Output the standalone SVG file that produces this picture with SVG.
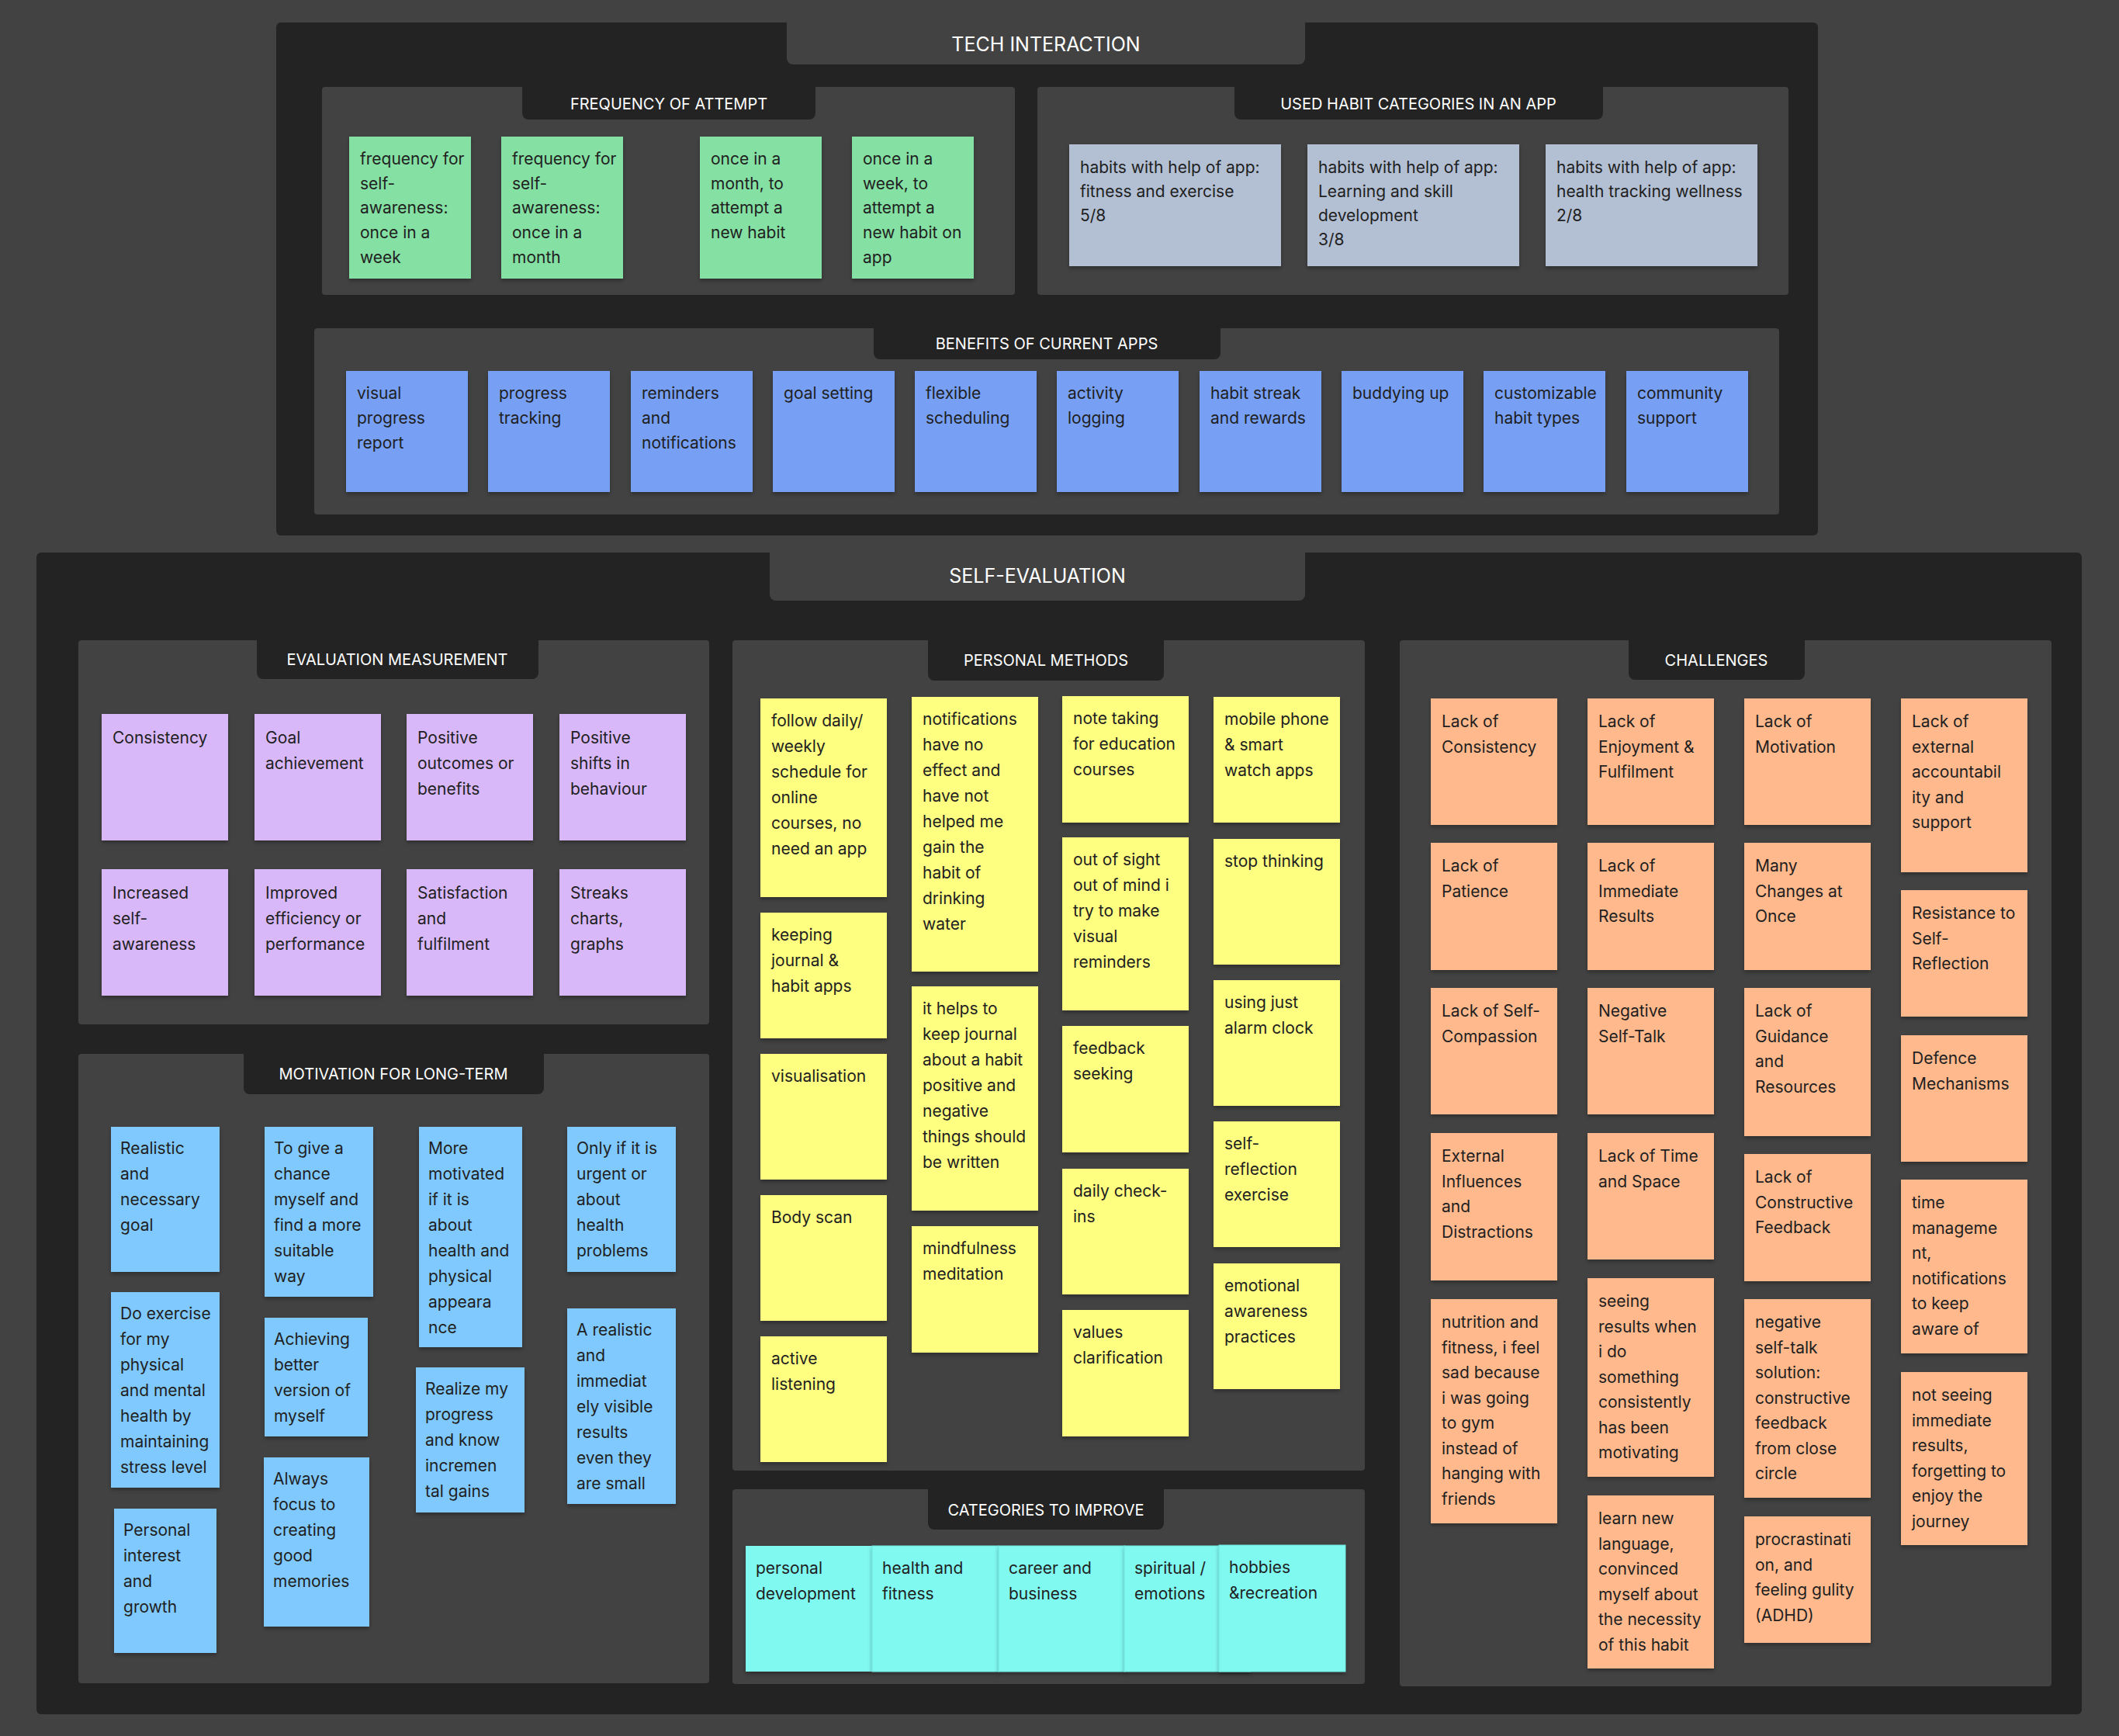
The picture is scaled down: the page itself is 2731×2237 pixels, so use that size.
<svg xmlns="http://www.w3.org/2000/svg" width="2731" height="2237" viewBox="0 0 2731 2237">
<defs>
<style>
.bg{fill:#424242}
.frame{fill:#232323}
.panel{fill:#424242}
.tab{fill:#232323}
.btab{fill:#424242}
.c{filter:url(#sh)}
.green{fill:#85e0a3}
.grey{fill:#b3bfd3}
.blue{fill:#77a0f4}
.purple{fill:#d9b8fa}
.lblue{fill:#80c9fe}
.yellow{fill:#fefe80}
.cyan{fill:#80f9f1}
.orange{fill:#ffb98d}
.t{font-family:Inter,'Liberation Sans',sans-serif;font-size:21px;fill:#1f1f1f}
.h{font-family:Inter,'Liberation Sans',sans-serif;font-size:20px;fill:#ffffff;text-anchor:middle}
.H{font-family:Inter,'Liberation Sans',sans-serif;font-size:25px;fill:#ffffff;text-anchor:middle}
</style>
<filter id="sh" x="-10%" y="-10%" width="120%" height="125%">
<feDropShadow dx="0" dy="3" stdDeviation="2.5" flood-color="#000" flood-opacity="0.3"/>
</filter>
</defs>
<rect class="bg" x="0" y="0" width="2731" height="2237"/>

<!-- TECH INTERACTION -->
<g id="tech-interaction">
<rect class="frame" x="356" y="29" width="1987" height="661" rx="6"/>
<rect class="btab" x="1014" y="15" width="668" height="68" rx="8"/>
<text class="H" x="1348" y="66">TECH INTERACTION</text>
</g>

<g id="frequency-of-attempt">
<rect class="panel" x="415" y="112" width="893" height="268" rx="4"/>
<rect class="tab" x="673" y="100" width="378" height="54" rx="8"/>
<text class="h" x="862" y="141">FREQUENCY OF ATTEMPT</text>
</g>
<g id="n-freq-1"><rect class="c green" x="450" y="176" width="157" height="183"/><text class="t" x="464" y="212"><tspan x="464">frequency for</tspan><tspan x="464" dy="31.7">self-</tspan><tspan x="464" dy="31.7">awareness:</tspan><tspan x="464" dy="31.7">once in a</tspan><tspan x="464" dy="31.7">week</tspan></text></g>
<g id="n-freq-2"><rect class="c green" x="646" y="176" width="157" height="183"/><text class="t" x="660" y="212"><tspan x="660">frequency for</tspan><tspan x="660" dy="31.7">self-</tspan><tspan x="660" dy="31.7">awareness:</tspan><tspan x="660" dy="31.7">once in a</tspan><tspan x="660" dy="31.7">month</tspan></text></g>
<g id="n-freq-3"><rect class="c green" x="902" y="176" width="157" height="183"/><text class="t" x="916" y="212"><tspan x="916">once in a</tspan><tspan x="916" dy="31.7">month, to</tspan><tspan x="916" dy="31.7">attempt a</tspan><tspan x="916" dy="31.7">new habit</tspan></text></g>
<g id="n-freq-4"><rect class="c green" x="1098" y="176" width="157" height="183"/><text class="t" x="1112" y="212"><tspan x="1112">once in a</tspan><tspan x="1112" dy="31.7">week, to</tspan><tspan x="1112" dy="31.7">attempt a</tspan><tspan x="1112" dy="31.7">new habit on</tspan><tspan x="1112" dy="31.7">app</tspan></text></g>

<g id="used-habit-categories">
<rect class="panel" x="1337" y="112" width="968" height="268" rx="4"/>
<rect class="tab" x="1591" y="100" width="475" height="54" rx="8"/>
<text class="h" x="1828" y="141">USED HABIT CATEGORIES IN AN APP</text>
</g>
<g id="n-cat-1"><rect class="c grey" x="1378" y="186" width="273" height="157"/><text class="t" x="1392" y="223"><tspan x="1392">habits with help of app:</tspan><tspan x="1392" dy="31">fitness and exercise</tspan><tspan x="1392" dy="31">5/8</tspan></text></g>
<g id="n-cat-2"><rect class="c grey" x="1685" y="186" width="273" height="157"/><text class="t" x="1699" y="223"><tspan x="1699">habits with help of app:</tspan><tspan x="1699" dy="31">Learning and skill</tspan><tspan x="1699" dy="31">development</tspan><tspan x="1699" dy="31">3/8</tspan></text></g>
<g id="n-cat-3"><rect class="c grey" x="1992" y="186" width="273" height="157"/><text class="t" x="2006" y="223"><tspan x="2006">habits with help of app:</tspan><tspan x="2006" dy="31">health tracking wellness</tspan><tspan x="2006" dy="31">2/8</tspan></text></g>

<g id="benefits-of-current-apps">
<rect class="panel" x="405" y="423" width="1888" height="240" rx="4"/>
<rect class="tab" x="1126" y="411" width="447" height="52" rx="8"/>
<text class="h" x="1349" y="450">BENEFITS OF CURRENT APPS</text>
</g>
<g id="n-ben-1"><rect class="c blue" x="446" y="478" width="157" height="156"/><text class="t" x="460" y="514"><tspan x="460">visual</tspan><tspan x="460" dy="32">progress</tspan><tspan x="460" dy="32">report</tspan></text></g>
<g id="n-ben-2"><rect class="c blue" x="629" y="478" width="157" height="156"/><text class="t" x="643" y="514"><tspan x="643">progress</tspan><tspan x="643" dy="32">tracking</tspan></text></g>
<g id="n-ben-3"><rect class="c blue" x="813" y="478" width="157" height="156"/><text class="t" x="827" y="514"><tspan x="827">reminders</tspan><tspan x="827" dy="32">and</tspan><tspan x="827" dy="32">notifications</tspan></text></g>
<g id="n-ben-4"><rect class="c blue" x="996" y="478" width="157" height="156"/><text class="t" x="1010" y="514">goal setting</text></g>
<g id="n-ben-5"><rect class="c blue" x="1179" y="478" width="157" height="156"/><text class="t" x="1193" y="514"><tspan x="1193">flexible</tspan><tspan x="1193" dy="32">scheduling</tspan></text></g>
<g id="n-ben-6"><rect class="c blue" x="1362" y="478" width="157" height="156"/><text class="t" x="1376" y="514"><tspan x="1376">activity</tspan><tspan x="1376" dy="32">logging</tspan></text></g>
<g id="n-ben-7"><rect class="c blue" x="1546" y="478" width="157" height="156"/><text class="t" x="1560" y="514"><tspan x="1560">habit streak</tspan><tspan x="1560" dy="32">and rewards</tspan></text></g>
<g id="n-ben-8"><rect class="c blue" x="1729" y="478" width="157" height="156"/><text class="t" x="1743" y="514">buddying up</text></g>
<g id="n-ben-9"><rect class="c blue" x="1912" y="478" width="157" height="156"/><text class="t" x="1926" y="514"><tspan x="1926">customizable</tspan><tspan x="1926" dy="32">habit types</tspan></text></g>
<g id="n-ben-10"><rect class="c blue" x="2096" y="478" width="157" height="156"/><text class="t" x="2110" y="514"><tspan x="2110">community</tspan><tspan x="2110" dy="32">support</tspan></text></g>

<!-- SELF-EVALUATION -->
<g id="self-evaluation">
<rect class="frame" x="47" y="712" width="2636" height="1497" rx="6"/>
<rect class="btab" x="992" y="700" width="690" height="74" rx="8"/>
<text class="H" x="1337" y="751">SELF-EVALUATION</text>
</g>

<g id="evaluation-measurement">
<rect class="panel" x="101" y="825" width="813" height="495" rx="4"/>
<rect class="tab" x="331" y="813" width="363" height="62" rx="8"/>
<text class="h" x="512" y="857">EVALUATION MEASUREMENT</text>
</g>
<g id="n-eval-1"><rect class="c purple" x="131" y="920" width="163" height="163"/><text class="t" x="145" y="958">Consistency</text></g>
<g id="n-eval-2"><rect class="c purple" x="328" y="920" width="163" height="163"/><text class="t" x="342" y="958"><tspan x="342">Goal</tspan><tspan x="342" dy="32.8">achievement</tspan></text></g>
<g id="n-eval-3"><rect class="c purple" x="524" y="920" width="163" height="163"/><text class="t" x="538" y="958"><tspan x="538">Positive</tspan><tspan x="538" dy="32.8">outcomes or</tspan><tspan x="538" dy="32.8">benefits</tspan></text></g>
<g id="n-eval-4"><rect class="c purple" x="721" y="920" width="163" height="163"/><text class="t" x="735" y="958"><tspan x="735">Positive</tspan><tspan x="735" dy="32.8">shifts in</tspan><tspan x="735" dy="32.8">behaviour</tspan></text></g>
<g id="n-eval-5"><rect class="c purple" x="131" y="1120" width="163" height="163"/><text class="t" x="145" y="1158"><tspan x="145">Increased</tspan><tspan x="145" dy="32.8">self-</tspan><tspan x="145" dy="32.8">awareness</tspan></text></g>
<g id="n-eval-6"><rect class="c purple" x="328" y="1120" width="163" height="163"/><text class="t" x="342" y="1158"><tspan x="342">Improved</tspan><tspan x="342" dy="32.8">efficiency or</tspan><tspan x="342" dy="32.8">performance</tspan></text></g>
<g id="n-eval-7"><rect class="c purple" x="524" y="1120" width="163" height="163"/><text class="t" x="538" y="1158"><tspan x="538">Satisfaction</tspan><tspan x="538" dy="32.8">and</tspan><tspan x="538" dy="32.8">fulfilment</tspan></text></g>
<g id="n-eval-8"><rect class="c purple" x="721" y="1120" width="163" height="163"/><text class="t" x="735" y="1158"><tspan x="735">Streaks</tspan><tspan x="735" dy="32.8">charts,</tspan><tspan x="735" dy="32.8">graphs</tspan></text></g>

<g id="motivation-for-long-term">
<rect class="panel" x="101" y="1358" width="813" height="811" rx="4"/>
<rect class="tab" x="314" y="1346" width="387" height="64" rx="8"/>
<text class="h" x="507" y="1391">MOTIVATION FOR LONG-TERM</text>
</g>
<g id="n-mot-1"><rect class="c lblue" x="143" y="1452" width="140" height="187"/><text class="t" x="155" y="1487"><tspan x="155">Realistic</tspan><tspan x="155" dy="33">and</tspan><tspan x="155" dy="33">necessary</tspan><tspan x="155" dy="33">goal</tspan></text></g>
<g id="n-mot-2"><rect class="c lblue" x="143" y="1665" width="140" height="252"/><text class="t" x="155" y="1700"><tspan x="155">Do exercise</tspan><tspan x="155" dy="33">for my</tspan><tspan x="155" dy="33">physical</tspan><tspan x="155" dy="33">and mental</tspan><tspan x="155" dy="33">health by</tspan><tspan x="155" dy="33">maintaining</tspan><tspan x="155" dy="33">stress level</tspan></text></g>
<g id="n-mot-3"><rect class="c lblue" x="147" y="1944" width="132" height="186"/><text class="t" x="159" y="1979"><tspan x="159">Personal</tspan><tspan x="159" dy="33">interest</tspan><tspan x="159" dy="33">and</tspan><tspan x="159" dy="33">growth</tspan></text></g>
<g id="n-mot-4"><rect class="c lblue" x="341" y="1452" width="140" height="219"/><text class="t" x="353" y="1487"><tspan x="353">To give a</tspan><tspan x="353" dy="33">chance</tspan><tspan x="353" dy="33">myself and</tspan><tspan x="353" dy="33">find a more</tspan><tspan x="353" dy="33">suitable</tspan><tspan x="353" dy="33">way</tspan></text></g>
<g id="n-mot-5"><rect class="c lblue" x="341" y="1698" width="133" height="153"/><text class="t" x="353" y="1733"><tspan x="353">Achieving</tspan><tspan x="353" dy="33">better</tspan><tspan x="353" dy="33">version of</tspan><tspan x="353" dy="33">myself</tspan></text></g>
<g id="n-mot-6"><rect class="c lblue" x="340" y="1878" width="136" height="218"/><text class="t" x="352" y="1913"><tspan x="352">Always</tspan><tspan x="352" dy="33">focus to</tspan><tspan x="352" dy="33">creating</tspan><tspan x="352" dy="33">good</tspan><tspan x="352" dy="33">memories</tspan></text></g>
<g id="n-mot-7"><rect class="c lblue" x="540" y="1452" width="133" height="284"/><text class="t" x="552" y="1487"><tspan x="552">More</tspan><tspan x="552" dy="33">motivated</tspan><tspan x="552" dy="33">if it is</tspan><tspan x="552" dy="33">about</tspan><tspan x="552" dy="33">health and</tspan><tspan x="552" dy="33">physical</tspan><tspan x="552" dy="33">appeara</tspan><tspan x="552" dy="33">nce</tspan></text></g>
<g id="n-mot-8"><rect class="c lblue" x="536" y="1762" width="140" height="187"/><text class="t" x="548" y="1797"><tspan x="548">Realize my</tspan><tspan x="548" dy="33">progress</tspan><tspan x="548" dy="33">and know</tspan><tspan x="548" dy="33">incremen</tspan><tspan x="548" dy="33">tal gains</tspan></text></g>
<g id="n-mot-9"><rect class="c lblue" x="731" y="1452" width="140" height="187"/><text class="t" x="743" y="1487"><tspan x="743">Only if it is</tspan><tspan x="743" dy="33">urgent or</tspan><tspan x="743" dy="33">about</tspan><tspan x="743" dy="33">health</tspan><tspan x="743" dy="33">problems</tspan></text></g>
<g id="n-mot-10"><rect class="c lblue" x="731" y="1686" width="140" height="252"/><text class="t" x="743" y="1721"><tspan x="743">A realistic</tspan><tspan x="743" dy="33">and</tspan><tspan x="743" dy="33">immediat</tspan><tspan x="743" dy="33">ely visible</tspan><tspan x="743" dy="33">results</tspan><tspan x="743" dy="33">even they</tspan><tspan x="743" dy="33">are small</tspan></text></g>

<g id="personal-methods">
<rect class="panel" x="944" y="825" width="815" height="1070" rx="4"/>
<rect class="tab" x="1196" y="813" width="304" height="64" rx="8"/>
<text class="h" x="1348" y="858">PERSONAL METHODS</text>
</g>
<g id="n-pm-1"><rect class="c yellow" x="980" y="900" width="163" height="256"/><text class="t" x="994" y="936"><tspan x="994">follow daily/</tspan><tspan x="994" dy="33">weekly</tspan><tspan x="994" dy="33">schedule for</tspan><tspan x="994" dy="33">online</tspan><tspan x="994" dy="33">courses, no</tspan><tspan x="994" dy="33">need an app</tspan></text></g>
<g id="n-pm-2"><rect class="c yellow" x="980" y="1176" width="163" height="162"/><text class="t" x="994" y="1212"><tspan x="994">keeping</tspan><tspan x="994" dy="33">journal &amp;</tspan><tspan x="994" dy="33">habit apps</tspan></text></g>
<g id="n-pm-3"><rect class="c yellow" x="980" y="1358" width="163" height="162"/><text class="t" x="994" y="1394">visualisation</text></g>
<g id="n-pm-4"><rect class="c yellow" x="980" y="1540" width="163" height="162"/><text class="t" x="994" y="1576">Body scan</text></g>
<g id="n-pm-5"><rect class="c yellow" x="980" y="1722" width="163" height="162"/><text class="t" x="994" y="1758"><tspan x="994">active</tspan><tspan x="994" dy="33">listening</tspan></text></g>
<g id="n-pm-6"><rect class="c yellow" x="1175" y="898" width="163" height="354"/><text class="t" x="1189" y="934"><tspan x="1189">notifications</tspan><tspan x="1189" dy="33">have no</tspan><tspan x="1189" dy="33">effect and</tspan><tspan x="1189" dy="33">have not</tspan><tspan x="1189" dy="33">helped me</tspan><tspan x="1189" dy="33">gain the</tspan><tspan x="1189" dy="33">habit of</tspan><tspan x="1189" dy="33">drinking</tspan><tspan x="1189" dy="33">water</tspan></text></g>
<g id="n-pm-7"><rect class="c yellow" x="1175" y="1271" width="163" height="289"/><text class="t" x="1189" y="1307"><tspan x="1189">it helps to</tspan><tspan x="1189" dy="33">keep journal</tspan><tspan x="1189" dy="33">about a habit</tspan><tspan x="1189" dy="33">positive and</tspan><tspan x="1189" dy="33">negative</tspan><tspan x="1189" dy="33">things should</tspan><tspan x="1189" dy="33">be written</tspan></text></g>
<g id="n-pm-8"><rect class="c yellow" x="1175" y="1580" width="163" height="163"/><text class="t" x="1189" y="1616"><tspan x="1189">mindfulness</tspan><tspan x="1189" dy="33">meditation</tspan></text></g>
<g id="n-pm-9"><rect class="c yellow" x="1369" y="897" width="163" height="163"/><text class="t" x="1383" y="933"><tspan x="1383">note taking</tspan><tspan x="1383" dy="33">for education</tspan><tspan x="1383" dy="33">courses</tspan></text></g>
<g id="n-pm-10"><rect class="c yellow" x="1369" y="1079" width="163" height="223"/><text class="t" x="1383" y="1115"><tspan x="1383">out of sight</tspan><tspan x="1383" dy="33">out of mind i</tspan><tspan x="1383" dy="33">try to make</tspan><tspan x="1383" dy="33">visual</tspan><tspan x="1383" dy="33">reminders</tspan></text></g>
<g id="n-pm-11"><rect class="c yellow" x="1369" y="1322" width="163" height="163"/><text class="t" x="1383" y="1358"><tspan x="1383">feedback</tspan><tspan x="1383" dy="33">seeking</tspan></text></g>
<g id="n-pm-12"><rect class="c yellow" x="1369" y="1506" width="163" height="162"/><text class="t" x="1383" y="1542"><tspan x="1383">daily check-</tspan><tspan x="1383" dy="33">ins</tspan></text></g>
<g id="n-pm-13"><rect class="c yellow" x="1369" y="1688" width="163" height="163"/><text class="t" x="1383" y="1724"><tspan x="1383">values</tspan><tspan x="1383" dy="33">clarification</tspan></text></g>
<g id="n-pm-14"><rect class="c yellow" x="1564" y="898" width="163" height="162"/><text class="t" x="1578" y="934"><tspan x="1578">mobile phone</tspan><tspan x="1578" dy="33">&amp; smart</tspan><tspan x="1578" dy="33">watch apps</tspan></text></g>
<g id="n-pm-15"><rect class="c yellow" x="1564" y="1081" width="163" height="162"/><text class="t" x="1578" y="1117">stop thinking</text></g>
<g id="n-pm-16"><rect class="c yellow" x="1564" y="1263" width="163" height="162"/><text class="t" x="1578" y="1299"><tspan x="1578">using just</tspan><tspan x="1578" dy="33">alarm clock</tspan></text></g>
<g id="n-pm-17"><rect class="c yellow" x="1564" y="1445" width="163" height="162"/><text class="t" x="1578" y="1481"><tspan x="1578">self-</tspan><tspan x="1578" dy="33">reflection</tspan><tspan x="1578" dy="33">exercise</tspan></text></g>
<g id="n-pm-18"><rect class="c yellow" x="1564" y="1628" width="163" height="162"/><text class="t" x="1578" y="1664"><tspan x="1578">emotional</tspan><tspan x="1578" dy="33">awareness</tspan><tspan x="1578" dy="33">practices</tspan></text></g>

<g id="categories-to-improve">
<rect class="panel" x="944" y="1919" width="815" height="251" rx="4"/>
<rect class="tab" x="1196" y="1907" width="304" height="64" rx="8"/>
<text class="h" x="1348" y="1953">CATEGORIES TO IMPROVE</text>
</g>
<g id="n-ci-1"><rect class="c cyan" x="961" y="1992" width="163" height="162"/><text class="t" x="974" y="2028"><tspan x="974">personal</tspan><tspan x="974" dy="33">development</tspan></text></g>
<g id="n-ci-2"><rect class="c cyan" x="1124" y="1992" width="163" height="162" stroke="#6fe3db" stroke-width="1"/><text class="t" x="1137" y="2028"><tspan x="1137">health and</tspan><tspan x="1137" dy="33">fitness</tspan></text></g>
<g id="n-ci-3"><rect class="c cyan" x="1287" y="1992" width="163" height="162" stroke="#6fe3db" stroke-width="1"/><text class="t" x="1300" y="2028"><tspan x="1300">career and</tspan><tspan x="1300" dy="33">business</tspan></text></g>
<g id="n-ci-4"><rect class="c cyan" x="1449" y="1992" width="163" height="162" stroke="#6fe3db" stroke-width="1"/><text class="t" x="1462" y="2028"><tspan x="1462">spiritual /</tspan><tspan x="1462" dy="33">emotions</tspan></text></g>
<g id="n-ci-5"><rect class="c cyan" x="1571" y="1991" width="163" height="163" stroke="#6fe3db" stroke-width="1"/><text class="t" x="1584" y="2027"><tspan x="1584">hobbies</tspan><tspan x="1584" dy="33">&amp;recreation</tspan></text></g>

<g id="challenges">
<rect class="panel" x="1804" y="825" width="840" height="1348" rx="4"/>
<rect class="tab" x="2099" y="813" width="227" height="63" rx="8"/>
<text class="h" x="2212" y="858">CHALLENGES</text>
</g>
<g id="n-ch-1"><rect class="c orange" x="1844" y="900" width="163" height="163"/><text class="t" x="1858" y="937"><tspan x="1858">Lack of</tspan><tspan x="1858" dy="32.5">Consistency</tspan></text></g>
<g id="n-ch-2"><rect class="c orange" x="1844" y="1086" width="163" height="164"/><text class="t" x="1858" y="1123"><tspan x="1858">Lack of</tspan><tspan x="1858" dy="32.5">Patience</tspan></text></g>
<g id="n-ch-3"><rect class="c orange" x="1844" y="1273" width="163" height="163"/><text class="t" x="1858" y="1310"><tspan x="1858">Lack of Self-</tspan><tspan x="1858" dy="32.5">Compassion</tspan></text></g>
<g id="n-ch-4"><rect class="c orange" x="1844" y="1460" width="163" height="190"/><text class="t" x="1858" y="1497"><tspan x="1858">External</tspan><tspan x="1858" dy="32.5">Influences</tspan><tspan x="1858" dy="32.5">and</tspan><tspan x="1858" dy="32.5">Distractions</tspan></text></g>
<g id="n-ch-5"><rect class="c orange" x="1844" y="1674" width="163" height="289"/><text class="t" x="1858" y="1711"><tspan x="1858">nutrition and</tspan><tspan x="1858" dy="32.5">fitness, i feel</tspan><tspan x="1858" dy="32.5">sad because</tspan><tspan x="1858" dy="32.5">i was going</tspan><tspan x="1858" dy="32.5">to gym</tspan><tspan x="1858" dy="32.5">instead of</tspan><tspan x="1858" dy="32.5">hanging with</tspan><tspan x="1858" dy="32.5">friends</tspan></text></g>
<g id="n-ch-6"><rect class="c orange" x="2046" y="900" width="163" height="163"/><text class="t" x="2060" y="937"><tspan x="2060">Lack of</tspan><tspan x="2060" dy="32.5">Enjoyment &amp;</tspan><tspan x="2060" dy="32.5">Fulfilment</tspan></text></g>
<g id="n-ch-7"><rect class="c orange" x="2046" y="1086" width="163" height="164"/><text class="t" x="2060" y="1123"><tspan x="2060">Lack of</tspan><tspan x="2060" dy="32.5">Immediate</tspan><tspan x="2060" dy="32.5">Results</tspan></text></g>
<g id="n-ch-8"><rect class="c orange" x="2046" y="1273" width="163" height="163"/><text class="t" x="2060" y="1310"><tspan x="2060">Negative</tspan><tspan x="2060" dy="32.5">Self-Talk</tspan></text></g>
<g id="n-ch-9"><rect class="c orange" x="2046" y="1460" width="163" height="163"/><text class="t" x="2060" y="1497"><tspan x="2060">Lack of Time</tspan><tspan x="2060" dy="32.5">and Space</tspan></text></g>
<g id="n-ch-10"><rect class="c orange" x="2046" y="1647" width="163" height="256"/><text class="t" x="2060" y="1684"><tspan x="2060">seeing</tspan><tspan x="2060" dy="32.5">results when</tspan><tspan x="2060" dy="32.5">i do</tspan><tspan x="2060" dy="32.5">something</tspan><tspan x="2060" dy="32.5">consistently</tspan><tspan x="2060" dy="32.5">has been</tspan><tspan x="2060" dy="32.5">motivating</tspan></text></g>
<g id="n-ch-11"><rect class="c orange" x="2046" y="1927" width="163" height="223"/><text class="t" x="2060" y="1964"><tspan x="2060">learn new</tspan><tspan x="2060" dy="32.5">language,</tspan><tspan x="2060" dy="32.5">convinced</tspan><tspan x="2060" dy="32.5">myself about</tspan><tspan x="2060" dy="32.5">the necessity</tspan><tspan x="2060" dy="32.5">of this habit</tspan></text></g>
<g id="n-ch-12"><rect class="c orange" x="2248" y="900" width="163" height="163"/><text class="t" x="2262" y="937"><tspan x="2262">Lack of</tspan><tspan x="2262" dy="32.5">Motivation</tspan></text></g>
<g id="n-ch-13"><rect class="c orange" x="2248" y="1086" width="163" height="164"/><text class="t" x="2262" y="1123"><tspan x="2262">Many</tspan><tspan x="2262" dy="32.5">Changes at</tspan><tspan x="2262" dy="32.5">Once</tspan></text></g>
<g id="n-ch-14"><rect class="c orange" x="2248" y="1273" width="163" height="191"/><text class="t" x="2262" y="1310"><tspan x="2262">Lack of</tspan><tspan x="2262" dy="32.5">Guidance</tspan><tspan x="2262" dy="32.5">and</tspan><tspan x="2262" dy="32.5">Resources</tspan></text></g>
<g id="n-ch-15"><rect class="c orange" x="2248" y="1487" width="163" height="164"/><text class="t" x="2262" y="1524"><tspan x="2262">Lack of</tspan><tspan x="2262" dy="32.5">Constructive</tspan><tspan x="2262" dy="32.5">Feedback</tspan></text></g>
<g id="n-ch-16"><rect class="c orange" x="2248" y="1674" width="163" height="256"/><text class="t" x="2262" y="1711"><tspan x="2262">negative</tspan><tspan x="2262" dy="32.5">self-talk</tspan><tspan x="2262" dy="32.5">solution:</tspan><tspan x="2262" dy="32.5">constructive</tspan><tspan x="2262" dy="32.5">feedback</tspan><tspan x="2262" dy="32.5">from close</tspan><tspan x="2262" dy="32.5">circle</tspan></text></g>
<g id="n-ch-17"><rect class="c orange" x="2248" y="1954" width="163" height="163"/><text class="t" x="2262" y="1991"><tspan x="2262">procrastinati</tspan><tspan x="2262" dy="32.5">on, and</tspan><tspan x="2262" dy="32.5">feeling gulity</tspan><tspan x="2262" dy="32.5">(ADHD)</tspan></text></g>
<g id="n-ch-18"><rect class="c orange" x="2450" y="900" width="163" height="224"/><text class="t" x="2464" y="937"><tspan x="2464">Lack of</tspan><tspan x="2464" dy="32.5">external</tspan><tspan x="2464" dy="32.5">accountabil</tspan><tspan x="2464" dy="32.5">ity and</tspan><tspan x="2464" dy="32.5">support</tspan></text></g>
<g id="n-ch-19"><rect class="c orange" x="2450" y="1147" width="163" height="163"/><text class="t" x="2464" y="1184"><tspan x="2464">Resistance to</tspan><tspan x="2464" dy="32.5">Self-</tspan><tspan x="2464" dy="32.5">Reflection</tspan></text></g>
<g id="n-ch-20"><rect class="c orange" x="2450" y="1334" width="163" height="163"/><text class="t" x="2464" y="1371"><tspan x="2464">Defence</tspan><tspan x="2464" dy="32.5">Mechanisms</tspan></text></g>
<g id="n-ch-21"><rect class="c orange" x="2450" y="1520" width="163" height="224"/><text class="t" x="2464" y="1557"><tspan x="2464">time</tspan><tspan x="2464" dy="32.5">manageme</tspan><tspan x="2464" dy="32.5">nt,</tspan><tspan x="2464" dy="32.5">notifications</tspan><tspan x="2464" dy="32.5">to keep</tspan><tspan x="2464" dy="32.5">aware of</tspan></text></g>
<g id="n-ch-22"><rect class="c orange" x="2450" y="1768" width="163" height="223"/><text class="t" x="2464" y="1805"><tspan x="2464">not seeing</tspan><tspan x="2464" dy="32.5">immediate</tspan><tspan x="2464" dy="32.5">results,</tspan><tspan x="2464" dy="32.5">forgetting to</tspan><tspan x="2464" dy="32.5">enjoy the</tspan><tspan x="2464" dy="32.5">journey</tspan></text></g>

<g id="connectors"></g>
</svg>
